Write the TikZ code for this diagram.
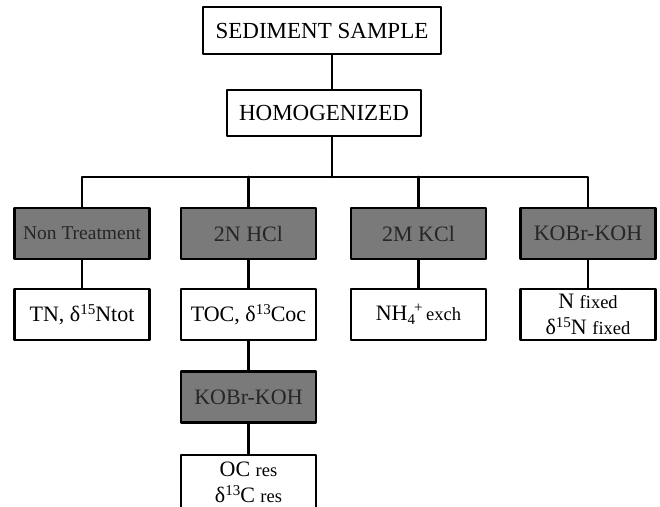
\documentclass[tikz,border=0pt]{standalone}
\usepackage{fontspec}
\setmainfont{Liberation Serif}
\newcommand{\smalltag}[1]{{\fontsize{18.5}{26}\selectfont #1}}
\newcommand{\isosup}[1]{\raisebox{7.5pt}{\fontsize{15}{15}\selectfont #1}}
\newcommand{\isosub}[1]{\raisebox{-4pt}{\fontsize{15}{15}\selectfont #1}}
\tikzset{every picture/.style={line width=2.6pt}}

\begin{document}
\begin{tikzpicture}[x=1pt, y=-1pt, line join=round, line cap=round,
		font=\fontsize{22}{26}\selectfont,
		box/.style={draw, fill=white, minimum width=135pt, minimum height=51pt, inner sep=1pt, align=center},
		treat/.style={box, fill=black!52, text=black!85}]
	\useasboundingbox (0,0) rectangle (660,506);
	\clip (0,0) rectangle (660,506);
	\path (332,177) coordinate (split);
	\node[box, minimum width=238pt, minimum height=47pt, font=\fontsize{23}{26}\selectfont] (sed) at (322,30.5) {SEDIMENT SAMPLE};
	\node[box, minimum width=194pt, minimum height=46pt, font=\fontsize{23}{26}\selectfont] (hom) at (324,113) {HOMOGENIZED};
	% treatments
	\foreach \n/\x/\t in {non/82/{\fontsize{19.5}{26}\selectfont Non Treatment}, hcl/248.5/2N HCl, kcl/418.5/2M KCl, kob/588/KOBr-KOH}
		\node[treat] (\n) at (\x,233.5) {\t};
	% results
	\foreach \n/\x/\t in {tn/82/{TN, δ\isosup{15}Ntot}, toc/248.5/{TOC, δ\isosup{13}Coc},
			nh/418.5/{NH\isosub{4}\kern-1pt\isosup{+}\,\smalltag{exch}},
			nfix/588/{N \smalltag{fixed}\\δ\isosup{15}N \smalltag{fixed}}}
		\node[box] (\n) at (\x,314.5) {\t};
	\node[treat] (kobr) at (248.5,397) {KOBr-KOH};
	\node[box, minimum height=55pt] (ocres) at (248.5,482.5) {OC \smalltag{res}\\δ\isosup{13}C \smalltag{res}};
	\draw (sed.south -| split) -- (hom.north -| split) (hom.south -| split) -- (split);
	\draw (non.north) |- (split) -| (kob.north);
	\draw (hcl.north |- split) -- (hcl.north) (kcl.north |- split) -- (kcl.north);
	\foreach \a/\b in {non/tn, hcl/toc, kcl/nh, kob/nfix, toc/kobr, kobr/ocres}
		\draw (\a) -- (\b);
\end{tikzpicture}
\end{document}
